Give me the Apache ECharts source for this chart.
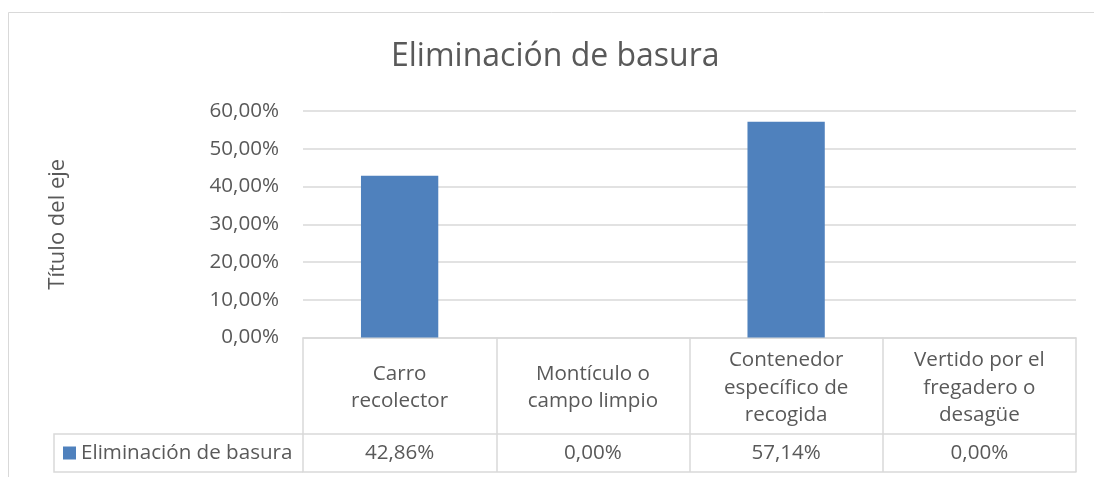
<!DOCTYPE html>
<html>
<head>
<meta charset="utf-8">
<script src="https://cdn.jsdelivr.net/npm/echarts@6/dist/echarts.min.js"></script>
<style>
html,body{margin:0;padding:0;background:#fff;}
#c{width:1094px;height:477px;}
</style>
</head>
<body>
<div id="c"></div>
<script>
// ---- data ----
var chartTitle = 'Eliminación de basura';
var yAxisTitle = 'Título del eje';
var seriesName = 'Eliminación de basura';
var categories = ['Carro\nrecolector', 'Montículo o\ncampo limpio', 'Contenedor\nespecífico de\nrecogida', 'Vertido por el\nfregadero o\ndesagüe'];
var values = [0.4286, 0.0, 0.5714, 0.0];
var yTicks = [0, 0.1, 0.2, 0.3, 0.4, 0.5, 0.6];

// ---- layout / style ----
var FONT = '"Open Sans", sans-serif';
var TXT = '#595959';
var LINE = '#d9d9d9';
var FS = 20.6;
var GL = 303, GR = 18, GT = 111, GB = 139.5;
var ROW1 = 96.5, ROW2 = 38;
var LEG_LEFT = 54;

function pct(v) { return (v * 100).toFixed(2).replace('.', ',') + '%'; }

var chart = echarts.init(document.getElementById('c'), null, { renderer: 'canvas' });
var H = 477;
var zeroY = H - GB;

var option = {
  animation: false,
  backgroundColor: '#ffffff',
  textStyle: { fontFamily: FONT },
  title: {
    text: chartTitle,
    left: 391,
    top: 41,
    padding: 0,
    textStyle: { fontFamily: FONT, fontSize: 32, fontWeight: 'normal', color: TXT }
  },
  legend: {
    data: [seriesName],
    left: 63,
    top: zeroY + ROW1 + 7,
    padding: 0,
    icon: 'rect',
    itemWidth: 13,
    itemHeight: 13,
    itemGap: 6,
    textStyle: { fontFamily: FONT, fontSize: FS, color: TXT, lineHeight: 24 }
  },
  grid: { left: GL, right: GR, top: GT, bottom: GB, containLabel: false },
  xAxis: [
    {
      type: 'category',
      data: categories,
      position: 'bottom',
      axisLine: { show: true, lineStyle: { color: LINE, width: 1.5 } },
      axisTick: { show: true, length: ROW1 + ROW2, interval: 0, lineStyle: { color: LINE, width: 1.5 } },
      axisLabel: {
        interval: 0, margin: ROW1 / 2 + 2, verticalAlign: 'middle',
        fontFamily: FONT, fontSize: FS, color: TXT, lineHeight: 27.5, align: 'center'
      },
      splitLine: { show: false }
    },
    {
      type: 'category',
      data: categories,
      position: 'bottom',
      offset: ROW1,
      axisLine: { show: true, lineStyle: { color: LINE, width: 1.5 } },
      axisTick: { show: false },
      axisLabel: {
        interval: 0, margin: ROW2 / 2, verticalAlign: 'middle',
        fontFamily: FONT, fontSize: FS, color: TXT,
        formatter: function (v, i) { return pct(values[i]); }
      }
    },
    {
      type: 'category',
      data: categories,
      position: 'bottom',
      offset: ROW1 + ROW2,
      axisLine: { show: true, lineStyle: { color: LINE, width: 1.5 } },
      axisTick: { show: false },
      axisLabel: { show: false }
    }
  ],
  yAxis: {
    type: 'value',
    min: yTicks[0],
    max: yTicks[yTicks.length - 1],
    interval: yTicks[1] - yTicks[0],
    name: yAxisTitle,
    nameLocation: 'middle',
    nameRotate: 90,
    nameGap: 234,
    nameTextStyle: { fontFamily: FONT, fontSize: 22, color: TXT },
    axisLine: { show: false },
    axisTick: { show: false },
    axisLabel: { margin: 24, fontFamily: FONT, fontSize: FS, color: TXT, formatter: pct },
    splitLine: { lineStyle: { color: LINE, width: 1.5 } }
  },
  series: [{
    name: seriesName,
    type: 'bar',
    data: values,
    barWidth: '40%',
    itemStyle: { color: '#4F81BD' }
  }],
  graphic: [
    {
      type: 'rect', silent: true, z: -10,
      shape: { x: 8.5, y: 12.5, width: 1200, height: 600 },
      style: { fill: null, stroke: LINE, lineWidth: 1 }
    },
    {
      type: 'polyline', silent: true,
      shape: { points: [[GL, zeroY + ROW1], [LEG_LEFT, zeroY + ROW1], [LEG_LEFT, zeroY + ROW1 + ROW2], [GL, zeroY + ROW1 + ROW2]] },
      style: { fill: null, stroke: LINE, lineWidth: 1.5 }
    }
  ]
};
chart.setOption(option);
</script>
</body>
</html>
